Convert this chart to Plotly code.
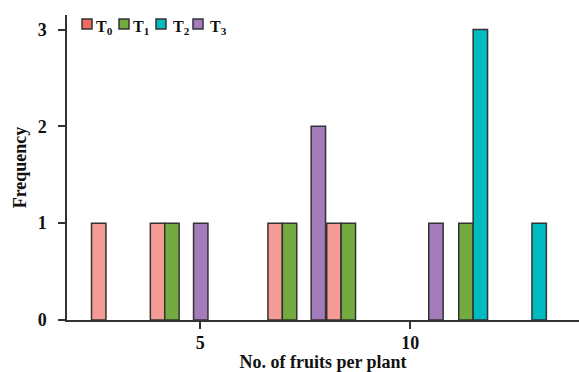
import plotly.graph_objects as go

# Histogram bins (centre of each 1.4-wide bin of fruits per plant)
bin_centers = [3.1, 4.5, 5.9, 7.3, 8.7, 10.1, 11.5, 12.9]

# Frequency of plants per bin for each treatment
t0_freq = [1, 1, 0, 1, 1, 0, 0, 0]
t1_freq = [0, 1, 0, 1, 1, 0, 1, 0]
t2_freq = [0, 0, 0, 0, 0, 0, 3, 1]
t3_freq = [0, 1, 0, 2, 0, 1, 0, 0]

series_names = ["T<sub>0</sub>", "T<sub>1</sub>", "T<sub>2</sub>", "T<sub>3</sub>"]
series_values = [t0_freq, t1_freq, t2_freq, t3_freq]
bar_colors = ["#F59B96", "#73AB40", "#00BBC0", "#A47CBB"]
key_colors = ["#EF6B61", "#73AB40", "#00BBC0", "#A47CBB"]

y_ticks = [0, 1, 2, 3]
x_ticks = [5, 10]

FONT = "Liberation Serif"
OUTLINE = "#333333"

# Plot-area geometry in pixels
W, H = 579, 372
ML, MR, MT, MB = 67, 0, 15, 52
PW, PH = W - ML - MR, H - MT - MB

fig = go.Figure()
for name, vals, col in zip(series_names, series_values, bar_colors):
    # empty bins are left undrawn so no outline sits on the baseline
    fig.add_trace(go.Bar(
        x=bin_centers, y=[v if v else None for v in vals], name=name,
        marker=dict(color=col, line=dict(color=OUTLINE, width=1.5)),
        showlegend=False,
    ))

# Compact key along the top-left corner
def px_x(p):
    return (p - ML) / PW

def px_y(p):
    return (H - MB - p) / PH

shapes = []
annotations = []
key_left = [82, 119, 156, 193]
text_gap = [2, 2, 5, 5]
for left, gap, name, col in zip(key_left, text_gap, series_names, key_colors):
    shapes.append(dict(
        type="rect", xref="paper", yref="paper",
        x0=px_x(left), x1=px_x(left + 10), y0=px_y(29), y1=px_y(19),
        fillcolor=col, line=dict(color=OUTLINE, width=1.5),
    ))
    annotations.append(dict(
        xref="paper", yref="paper", x=px_x(left + 10 + gap), y=px_y(16),
        xanchor="left", yanchor="top", showarrow=False, text=name,
        font=dict(family=FONT, size=16, color="#111111", weight="bold"),
    ))

fig.update_layout(
    width=W, height=H,
    margin=dict(l=ML, r=MR, t=MT, b=MB, autoexpand=False),
    paper_bgcolor="white", plot_bgcolor="white",
    barmode="group", bargap=0.02, bargroupgap=0,
    font=dict(family=FONT, color="#111111"),
    shapes=shapes, annotations=annotations,
    xaxis=dict(
        range=[1.83, 14.02], tickvals=x_ticks, ticks="outside", ticklen=7,
        tickwidth=1.5, tickcolor=OUTLINE, showline=True, linecolor=OUTLINE,
        linewidth=1.5, showgrid=False, zeroline=False, ticklabelstandoff=-1,
        automargin=False,
        tickfont=dict(family=FONT, size=18, weight="bold"),
        title=dict(text="No. of fruits per plant", standoff=8,
                   font=dict(family=FONT, size=18, weight="bold")),
    ),
    yaxis=dict(
        range=[0, 3.15], tickvals=y_ticks, ticks="outside", ticklen=7,
        tickwidth=1.5, tickcolor=OUTLINE, showline=True, linecolor=OUTLINE,
        linewidth=1.5, showgrid=False, zeroline=False, ticklabelstandoff=8,
        automargin=False,
        tickfont=dict(family=FONT, size=18, weight="bold"),
        title=dict(text="Frequency", standoff=6,
                   font=dict(family=FONT, size=18, weight="bold")),
    ),
)

fig.write_html("out.html")
